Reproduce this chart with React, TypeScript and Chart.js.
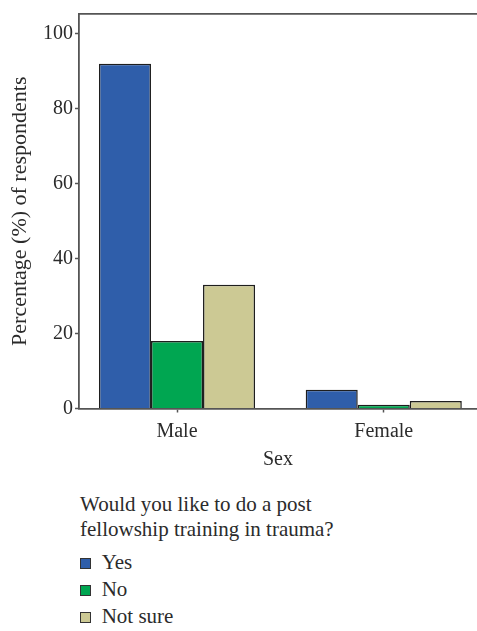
import React, { useEffect, useRef } from 'react';
import { Chart, registerables } from 'chart.js';

Chart.register(...registerables);

const categories = ['Male', 'Female'];
const seriesNames = ['Yes', 'No', 'Not sure'];
const yesValues = [92, 5];
const noValues = [18, 1];
const notSureValues = [33, 2];
const yTicks = [0, 20, 40, 60, 80, 100];
const seriesColors = ['#2F5EAA', '#00A651', '#CCC994'];
const legendTitle = ['Would you like to do a post', 'fellowship training in trauma?'];
const xTitle = 'Sex';
const yTitle = 'Percentage (%) of respondents';

const FONT = "'Liberation Serif', 'Times New Roman', serif";
const TEXT = '#2b2b2b';
const AXIS = '#555555';

export default function App() {
  const ref = useRef<HTMLCanvasElement>(null);

  useEffect(() => {
    document.body.style.margin = '0';
    const series = [yesValues, noValues, notSureValues];
    const chart = new Chart(ref.current as HTMLCanvasElement, {
      type: 'bar',
      data: {
        datasets: series.map((vals, i) => ({
          label: seriesNames[i],
          data: vals.map((v, j) => ({ x: j, y: v })),
          backgroundColor: seriesColors[i],
          borderColor: '#1e1e1e',
          borderWidth: 1.5,
          categoryPercentage: 0.755,
          barPercentage: 1,
        })),
      } as any,
      options: {
        animation: false,
        responsive: false,
        layout: { padding: { top: 8, left: 0, right: 0, bottom: 0 } },
        plugins: { legend: { display: false }, tooltip: { enabled: false } },
        scales: {
          x: {
            type: 'linear',
            position: 'bottom',
            offset: false,
            min: -0.474,
            max: 1.451,
            afterBuildTicks: (s: any) => {
              s.ticks = categories.map((_, i) => ({ value: i }));
            },
            afterFit: (s: any) => {
              s.height = 66.5;
            },
            ticks: {
              callback: (v: any) => categories[Math.round(Number(v))] ?? '',
              font: { family: FONT, size: 20 },
              color: TEXT,
              padding: 7.5,
              maxRotation: 0,
              autoSkip: false,
            },
            grid: { display: true, offset: false, drawOnChartArea: false, drawTicks: true, tickLength: 4, tickColor: AXIS, tickWidth: 1.5 },
            border: { display: true, color: AXIS, width: 1.8 },
            title: {
              display: true,
              text: xTitle,
              font: { family: FONT, size: 20 },
              color: TEXT,
              padding: { top: 0, bottom: 3 },
            },
          },
          xTop: {
            type: 'linear',
            position: 'top',
            offset: false,
            min: 0,
            max: 1,
            afterFit: (s: any) => {
              s.height = 0;
            },
            ticks: { display: false },
            grid: { display: true, offset: false, drawOnChartArea: false, drawTicks: false },
            border: { display: true, color: AXIS, width: 1.8 },
          },
          y: {
            type: 'linear',
            min: 0,
            max: 105.3,
            afterBuildTicks: (s: any) => {
              s.ticks = yTicks.map((v) => ({ value: v }));
            },
            afterFit: (s: any) => {
              s.width = 79;
            },
            ticks: {
              font: { family: FONT, size: 20 },
              color: TEXT,
              padding: 2,
            },
            grid: { display: true, drawOnChartArea: false, drawTicks: true, tickLength: 4, tickColor: AXIS, tickWidth: 1.5 },
            border: { display: true, color: AXIS, width: 1.8 },
            title: {
              display: true,
              text: yTitle,
              font: { family: FONT, size: 22 },
              color: TEXT,
              padding: { top: 7, bottom: 0 },
            },
          },
        },
      } as any,
    });
    return () => chart.destroy();
  }, []);

  return (
    <div style={{ position: 'relative', width: 477, height: 631, fontFamily: FONT, color: TEXT }}>
      <canvas ref={ref} width={477} height={475} style={{ position: 'absolute', left: 0, top: 0, width: 477, height: 475 }} />
      <div style={{ position: 'absolute', left: 80, top: 491.9, fontSize: 21, lineHeight: '25.5px', whiteSpace: 'nowrap' }}>
        {legendTitle.map((t, i) => (
          <div key={i}>{t}</div>
        ))}
      </div>
      {seriesNames.map((name, i) => (
        <div
          key={name}
          style={{ position: 'absolute', left: 80, top: 549.4 + i * 27, height: 27, fontSize: 21, lineHeight: '27px', whiteSpace: 'nowrap' }}
        >
          <span
            style={{
              position: 'absolute',
              left: 0,
              top: 9.1,
              width: 11,
              height: 11,
              boxSizing: 'border-box',
              background: seriesColors[i],
              border: '1.5px solid #333',
            }}
          />
          <span style={{ position: 'absolute', left: 21.7, top: 0 }}>{name}</span>
        </div>
      ))}
    </div>
  );
}
